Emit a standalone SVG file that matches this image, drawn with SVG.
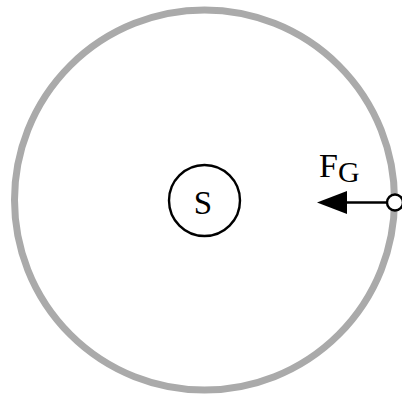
<svg xmlns="http://www.w3.org/2000/svg" width="402" height="399" viewBox="0 0 402 399">
<style>
.t{font-family:"Liberation Serif","Times New Roman",serif;fill:#000}
.k{stroke:#000;stroke-width:2.4}
</style>
<rect width="402" height="399" fill="#fff"/>
<g id="orbit"><circle cx="204.5" cy="200" r="190" fill="none" stroke="#aaaaaa" stroke-width="7"/></g>
<g id="sun"><circle class="k" cx="204.5" cy="200.5" r="35.5" fill="#fff"/>
<text class="t" x="203" y="214" font-size="33" text-anchor="middle">S</text></g>
<g id="connectors">
<line class="k" x1="345" y1="202.5" x2="388" y2="202.5"/>
<polygon points="317,202.5 347,191 347,214" fill="#000"/>
</g>
<g id="planet"><circle class="k" cx="395" cy="202.5" r="8" fill="#fff"/></g>
<g id="label"><text class="t" x="319" y="177" font-size="34">F<tspan font-size="30" dy="5">G</tspan></text></g>
</svg>
